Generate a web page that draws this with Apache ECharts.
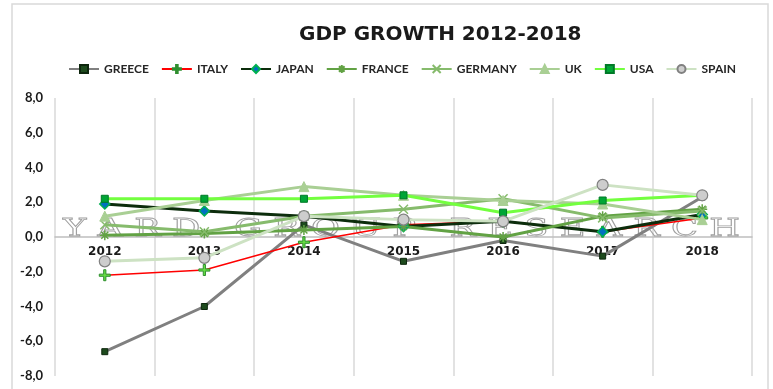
<!DOCTYPE html>
<html>
<head>
<meta charset="utf-8">
<script src="https://cdn.jsdelivr.net/npm/echarts@6/dist/echarts.min.js"></script>
<style>html,body{margin:0;padding:0;background:#fff;}#c{width:773px;height:389px;}</style>
</head>
<body>
<div id="c"></div>
<script>
var years = ['2012', '2013', '2014', '2015', '2016', '2017', '2018'];
var greece  = [-6.6, -4.0, 0.7, -1.4, -0.2, -1.1, 2.3];
var italy   = [-2.2, -1.9, -0.3, 0.7, 0.9, 0.3, 1.1];
var japan   = [1.9, 1.5, 1.2, 0.6, 0.9, 0.3, 1.3];
var france  = [0.1, 0.2, 0.4, 0.6, 0.0, 1.2, 1.6];
var germany = [0.7, 0.3, 1.2, 1.6, 2.2, 1.1, 1.5];
var uk      = [1.2, 2.1, 2.9, 2.4, 2.1, 1.9, 1.0];
var usa     = [2.2, 2.2, 2.2, 2.4, 1.4, 2.1, 2.4];
var spain   = [-1.4, -1.2, 1.2, 1.0, 0.9, 3.0, 2.4];
var yTicks  = ['-8,0', '-6,0', '-4,0', '-2,0', '0,0', '2,0', '4,0', '6,0', '8,0'];

var chart = echarts.init(document.getElementById('c'));

var PLUS = 'path://M4,0 L6,0 L6,4 L10,4 L10,6 L6,6 L6,10 L4,10 L4,6 L0,6 L0,4 L4,4 Z';
var STAR = 'path://M5,0 L5,10 M0,5 L10,5 M1.5,1.5 L8.5,8.5 M8.5,1.5 L1.5,8.5';
var CROSS = 'path://M0,0 L10,10 M10,0 L0,10';

function mk(name, data, color, width, symbol, size, fill, border, bw, z) {
  return {
    name: name, type: 'line', data: data, z: z,
    symbol: symbol, symbolSize: size,
    lineStyle: { color: color, width: width },
    itemStyle: { color: fill, borderColor: border, borderWidth: bw },
    emphasis: { disabled: true }
  };
}

var option = {
  animation: false,
  backgroundColor: '#ffffff',
  title: {
    text: 'GDP GROWTH 2012-2018',
    left: 294, top: 20,
    textStyle: { fontFamily: 'DejaVu Sans', fontWeight: 'bold', fontSize: 20, color: '#1a1a1a' }
  },
  legend: {
    left: 68, top: 63, padding: 0,
    itemWidth: 30, itemHeight: 10, itemGap: 12,
    textStyle: { fontFamily: 'Lato', fontWeight: 'bold', fontSize: 12, color: '#262626' },
    data: ['GREECE', 'ITALY', 'JAPAN', 'FRANCE', 'GERMANY', 'UK', 'USA', 'SPAIN']
  },
  grid: { left: 55, right: 21, top: 98, bottom: 13, outerBoundsMode: 'none', containLabel: false },
  xAxis: {
    type: 'category', data: years, boundaryGap: true,
    position: 'bottom', offset: -139,
    axisLine: { onZero: false, lineStyle: { color: '#bfbfbf', width: 1.5 } },
    axisTick: { show: false },
    axisLabel: { margin: 9, fontFamily: 'DejaVu Sans', fontWeight: 'bold', fontSize: 12, color: '#1a1a1a' },
    splitLine: { show: true, lineStyle: { color: '#d9d9d9', width: 1.5 } }
  },
  yAxis: {
    type: 'value', min: -8, max: 8, interval: 2,
    axisLine: { show: false }, axisTick: { show: false },
    splitLine: { show: false },
    axisLabel: {
      margin: 12, fontFamily: 'Lato', fontWeight: 'bold', fontSize: 13, color: '#1a1a1a',
      formatter: function (v) { return yTicks[Math.round((v + 8) / 2)]; }
    }
  },
  graphic: [
    { type: 'rect', z: 0, silent: true, shape: { x: 12, y: 4, width: 756, height: 420 },
      style: { fill: 'none', stroke: '#d9d9d9', lineWidth: 1.5 } },
    { type: 'text', z: 1, silent: true, x: 63, y: 242, scaleX: 1.47,
      style: { text: 'Y A R D   G R O U P   R E S E A R C H', font: '24px "DejaVu Serif"',
        fill: 'rgba(255,255,255,0)', stroke: '#a0a0a0', lineWidth: 0.8, textVerticalAlign: 'bottom' } }
  ],
  series: [
    mk('GREECE', greece, '#808080', 3, 'rect', 6, '#1d4a1d', '#0d260d', 1, 3),
    mk('ITALY', italy, '#ff0000', 1.5, PLUS, 11, '#66dd44', '#2f8f2f', 1, 3),
    mk('JAPAN', japan, '#0c2d0c', 3, 'diamond', 10, '#0070c0', '#00b050', 1.5, 4),
    mk('FRANCE', france, '#62a244', 3, STAR, 10, '#62a244', '#62a244', 1.5, 4),
    mk('GERMANY', germany, '#86bb6c', 3, CROSS, 9, '#86bb6c', '#86bb6c', 1.5, 4),
    mk('UK', uk, '#a9cf94', 3, 'triangle', 10, '#a9cf94', '#a9cf94', 1, 4),
    mk('USA', usa, '#73ff3f', 3, 'rect', 7, '#00a536', '#007a28', 1, 4),
    mk('SPAIN', spain, '#cde2c3', 3, 'circle', 11, '#cdcdcd', '#808080', 1.2, 4)
  ]
};
chart.setOption(option);
</script>
</body>
</html>
